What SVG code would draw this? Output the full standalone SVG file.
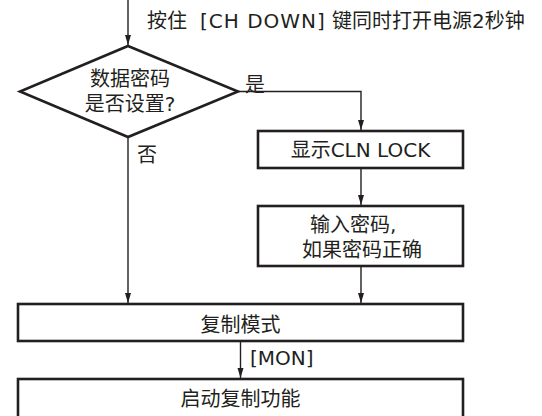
<svg xmlns="http://www.w3.org/2000/svg" width="542" height="416" viewBox="0 0 542 416">
<style>
text{font-family:"DejaVu Sans","Noto Sans CJK SC",sans-serif;font-size:20px;fill:#231f20}
.box{fill:#fff;stroke:#231f20;stroke-width:2.6}
.ln{fill:none;stroke:#231f20;stroke-width:1.4}
</style>
<defs>
<marker id="ah" markerWidth="10" markerHeight="8" refX="10" refY="4" orient="auto" markerUnits="userSpaceOnUse" viewBox="0 0 10 8">
<path d="M0,1 L10,4 L0,7 Z" fill="#231f20"/>
</marker>
</defs>
<rect width="542" height="416" fill="#fff"/>
<g id="connectors">
<path class="ln" d="M128,0 V45" marker-end="url(#ah)"/>
<path class="ln" d="M238,91.5 H361 V130" marker-end="url(#ah)"/>
<path class="ln" d="M128,137 V303" marker-end="url(#ah)"/>
<path class="ln" d="M361,168 V205" marker-end="url(#ah)"/>
<path class="ln" d="M361,266 V303" marker-end="url(#ah)"/>
<path class="ln" d="M240.5,342 V378" marker-end="url(#ah)"/>
</g>
<g id="start-label"><text y="28"><tspan x="147">按住</tspan><tspan x="200" letter-spacing="1">[CH DOWN]</tspan><tspan x="332">键同时打开电源2秒钟</tspan></text></g>
<g id="decision">
<polygon class="box" points="128,46 238,91.5 128,137 20,91.5"/>
<text x="130" y="86" text-anchor="middle">数据密码</text>
<text x="130" y="111" text-anchor="middle">是否设置?</text>
</g>
<g id="yes-label"><text x="245" y="92">是</text></g>
<g id="no-label"><text x="137" y="162">否</text></g>
<g id="display-lock">
<rect class="box" x="258" y="131" width="205" height="37"/>
<text x="360.5" y="157" text-anchor="middle">显示CLN LOCK</text>
</g>
<g id="enter-password">
<rect class="box" x="258" y="206" width="205" height="60"/>
<text x="310" y="232">输入密码,</text>
<text x="302" y="257">如果密码正确</text>
</g>
<g id="copy-mode">
<rect class="box" x="18" y="304" width="445" height="37"/>
<text x="240.5" y="332" text-anchor="middle">复制模式</text>
</g>
<g id="mon-label"><text x="250" y="365">[MON]</text></g>
<g id="start-copy">
<rect class="box" x="18" y="379" width="445" height="40"/>
<text x="240.5" y="406" text-anchor="middle">启动复制功能</text>
</g>
</svg>
